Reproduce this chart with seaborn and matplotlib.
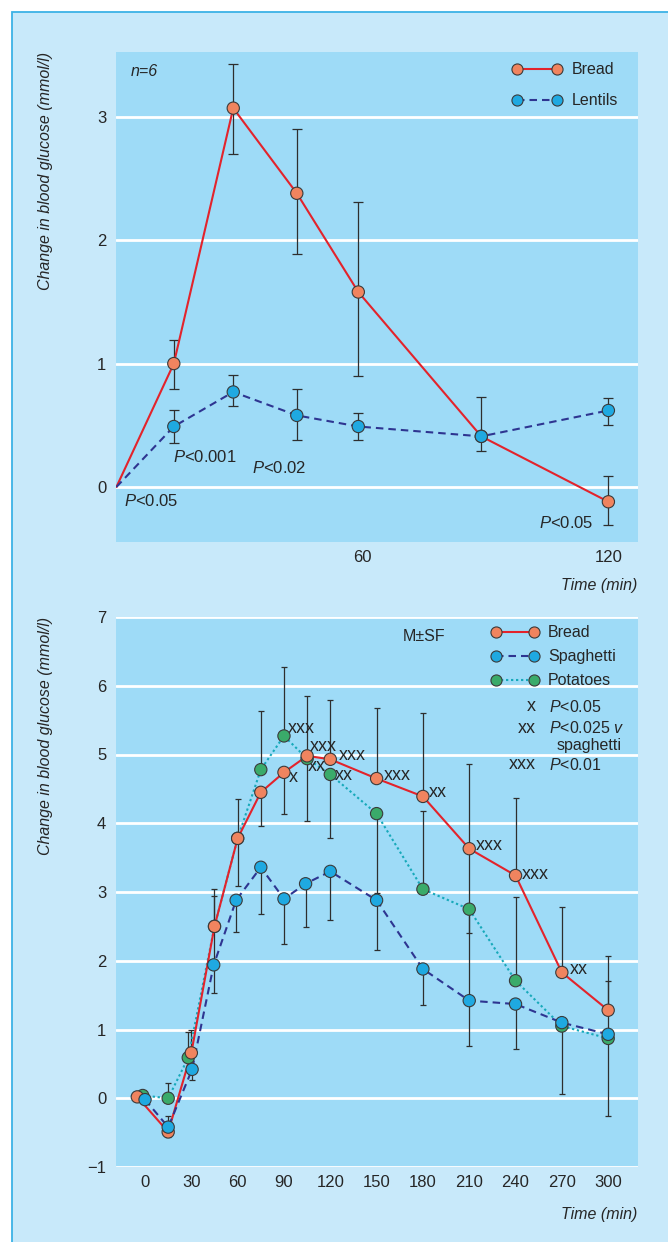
import numpy as np
import pandas as pd
import matplotlib
matplotlib.use("Agg")
import matplotlib.pyplot as plt
from matplotlib import font_manager
from matplotlib.lines import Line2D
from matplotlib.patches import Rectangle
import seaborn as sns

# -----------------------------------------
# Data: upper panel (bread v lentils, n=6)
# -----------------------------------------
top_time = [0, 14, 28.5, 44, 59, 89, 120]
top_bread = [0, 1.00, 3.07, 2.38, 1.58, 0.41, -0.12]
top_bread_lo = [0, 0.21, 0.37, 0.49, 0.68, 0.00, 0.19]
top_bread_hi = [0, 0.19, 0.36, 0.52, 0.73, 0.32, 0.21]
top_lentils = [0, 0.49, 0.77, 0.58, 0.49, 0.41, 0.62]
top_lentils_lo = [0, 0.13, 0.11, 0.20, 0.11, 0.12, 0.12]
top_lentils_hi = [0, 0.13, 0.14, 0.21, 0.11, 0.00, 0.10]
top_notes = ["P<0.05", "P<0.001", "P<0.02", "P<0.05"]
top_note_x = [1.9, 13.8, 33.0, 103.1]
top_note_y = [-0.11, 0.245, 0.156, -0.29]

# -----------------------------------------
# Data: lower panel (bread, spaghetti, potatoes)
# -----------------------------------------
bread_time = [-5, 15, 30, 45, 60, 75, 90, 105, 120, 150, 180, 210, 240, 270, 300]
bread = [0.02, -0.49, 0.66, 2.50, 3.78, 4.45, 4.74, 4.98, 4.93, 4.65, 4.39, 3.63, 3.24, 1.83, 1.28]
bread_lo = [0, 0.08, 0, 0.56, 0.69, 0.49, 0.60, 0, 0, 0, 0, 1.23, 0, 0, 0]
bread_hi = [0, 0, 0.33, 0.44, 0, 0, 0, 0.87, 0.86, 1.03, 1.21, 1.23, 1.13, 0.95, 0.79]

spag_time = [0, 15, 30.5, 44.5, 59, 75, 90, 104, 120, 150, 180, 210, 240, 270, 300]
spaghetti = [-0.02, -0.42, 0.42, 1.94, 2.88, 3.36, 2.90, 3.12, 3.30, 2.88, 1.88, 1.42, 1.37, 1.10, 0.93]
spag_lo = [0, 0, 0.15, 0.41, 0.46, 0.68, 0.65, 0.63, 0.70, 0.73, 0.53, 0.66, 0.65, 1.04, 1.19]
spag_hi = [0, 0.16, 0, 0, 0, 0, 0, 0, 0, 0, 0, 0, 0, 0, 0]

pot_time = [-1.5, 15, 28, 45, 60, 75, 90, 105, 120, 150, 180, 210, 240, 270, 300]
potatoes = [0.04, 0.00, 0.59, 2.50, 3.78, 4.78, 5.27, 4.94, 4.71, 4.14, 3.04, 2.75, 1.71, 1.05, 0.87]
pot_lo = [0, 0, 0, 0, 0, 0, 0, 0.90, 0.93, 1.15, 0, 1.30, 0, 0, 0]
pot_hi = [0, 0.22, 0.38, 0.55, 0.57, 0.85, 1.00, 0, 0, 0, 1.14, 0, 1.22, 0, 0.84]

sig_marks = ["xxx", "x", "xxx", "xx", "xxx", "xx", "xxx", "xx", "xxx", "xxx", "xx"]
sig_x = [92.4, 93.2, 107, 105.3, 125.8, 123, 154.4, 183.7, 214.2, 244.2, 275]
sig_y = [5.38, 4.67, 5.12, 4.82, 4.98, 4.70, 4.70, 4.45, 3.67, 3.25, 1.88]

# -----------------------------------------
# Styles
# -----------------------------------------
FRAME_BG = "#c8e9fa"
AXES_BG = "#9edbf7"
FRAME_EDGE = "#3cb2e6"
BAR_COL = "#2e2e2e"
EDGE_COL = "#3a3a3a"
LINE_COLOURS = {"Bread": "#e3232b", "Lentils": "#2e3591", "Spaghetti": "#2e3591", "Potatoes": "#17a9ba"}
MARKER_COLOURS = {"Bread": "#f0845f", "Lentils": "#1fa9e1", "Spaghetti": "#1fa9e1", "Potatoes": "#3aab6a"}
DASHES = {"Bread": "", "Lentils": (3.6, 2.4), "Spaghetti": (3.6, 2.4), "Potatoes": (1.1, 1.3)}

sns.set_theme(style="white", rc={"axes.facecolor": AXES_BG, "figure.facecolor": "white"})

installed = {f.name for f in font_manager.fontManager.ttflist}
MAIN_FONT = "Liberation Sans Narrow" if "Liberation Sans Narrow" in installed else "Liberation Sans"
plt.rcParams["font.family"] = [MAIN_FONT, "DejaVu Sans"]
plt.rcParams["mathtext.fontset"] = "custom"
plt.rcParams["mathtext.it"] = MAIN_FONT + ":italic"
plt.rcParams["mathtext.rm"] = MAIN_FONT
FS = 11.5
FS_MARK = 13


def p_text(s):
    # italic P (and v), the rest upright
    s = s.replace(" v", r" $\mathit{v}$")
    return s.replace("P", r"$\mathit{P}$", 1) if s.startswith("P") else s


def style_axes(ax, xticks, yticks, xlim, ylim):
    ax.set_xlim(*xlim)
    ax.set_ylim(*ylim)
    ax.set_xticks(xticks)
    ax.set_yticks(yticks)
    for sp in ax.spines.values():
        sp.set_visible(False)
    ax.set_axisbelow(True)
    ax.yaxis.grid(True, color="white", lw=2.0)
    ax.xaxis.grid(False)
    ax.tick_params(axis="y", length=0, pad=7, labelsize=FS + 0.5)
    ax.tick_params(axis="x", direction="in", length=6, width=1.6, color="white", pad=6, labelsize=FS + 0.5)
    ax.set_xlabel("")
    ax.set_ylabel("")
    ax.text(-0.136, 1.0, "Change in blood glucose (mmol/l)", transform=ax.transAxes,
            rotation=90, ha="center", va="top", style="italic", fontsize=FS)


def draw_series(ax, df, order, capsize):
    sns.lineplot(data=df, x="time", y="glucose", hue="food", style="food", hue_order=order,
                 style_order=order, palette=LINE_COLOURS, dashes=DASHES, linewidth=1.5,
                 errorbar=None, legend=False, ax=ax, zorder=2.5)
    for food in order:
        sub = df[(df.food == food) & df.show_bar]
        ax.errorbar(sub.time, sub.glucose, yerr=[sub.lo, sub.hi], fmt="none", ecolor=BAR_COL,
                    elinewidth=0.9, capsize=capsize, capthick=0.9, zorder=2)
    pts = df[df.show_marker]
    sns.scatterplot(data=pts, x="time", y="glucose", hue="food", palette=MARKER_COLOURS,
                    s=78, edgecolor=EDGE_COL, linewidth=0.8, legend=False, ax=ax, zorder=4)


def legend_handles(order):
    hs = []
    for food in order:
        d = DASHES[food]
        hs.append(Line2D([], [], color=LINE_COLOURS[food], lw=1.5, ls="-" if d == "" else (0, d),
                         marker="o", ms=8, mfc=MARKER_COLOURS[food], mec=EDGE_COL, mew=0.8))
    return hs


fig = plt.figure(figsize=(6.68, 12.42), dpi=100)
fig.add_artist(Rectangle((12 / 668, -0.01), 1.0, 1.01 - 12 / 1242, transform=fig.transFigure,
                         facecolor=FRAME_BG, edgecolor=FRAME_EDGE, lw=1.3, zorder=-5))

# ---------------- upper panel ----------------
ax1 = fig.add_axes([116 / 668, 1 - 542 / 1242, 521.5 / 668, 490 / 1242])
n = len(top_time)
top_df = pd.DataFrame({
    "time": top_time * 2,
    "glucose": top_bread + top_lentils,
    "lo": top_bread_lo + top_lentils_lo,
    "hi": top_bread_hi + top_lentils_hi,
    "food": ["Bread"] * n + ["Lentils"] * n,
})
top_df["show_marker"] = top_df.time > 0
top_df["show_bar"] = top_df.time > 0
draw_series(ax1, top_df, ["Bread", "Lentils"], capsize=3.6)
style_axes(ax1, [60, 120], [0, 1, 2, 3], (-0.1, 127.1), (-0.446, 3.525))
ax1.text(3.5, 3.37, "n=6", style="italic", fontsize=FS, va="center", ha="left")
for s, x, y in zip(top_notes, top_note_x, top_note_y):
    ax1.text(x, y, p_text(s), fontsize=FS + 0.5, va="center", ha="left")
ax1.text(1.0, -0.089, "Time (min)", transform=ax1.transAxes, ha="right", va="center",
         style="italic", fontsize=FS)
ax1.legend(legend_handles(["Bread", "Lentils"]), ["Bread", "Lentils"], loc="upper left",
           bbox_to_anchor=(0.760, 0.979), frameon=False, numpoints=2, handlelength=3.1,
           handletextpad=0.64, labelspacing=1.0, borderpad=0, borderaxespad=0, fontsize=FS)

# ---------------- lower panel ----------------
ax2 = fig.add_axes([116 / 668, 1 - 1167 / 1242, 521.5 / 668, 550 / 1242])
m = len(bread_time)
low_df = pd.DataFrame({
    "time": pot_time + bread_time + spag_time,
    "glucose": potatoes + bread + spaghetti,
    "lo": pot_lo + bread_lo + spag_lo,
    "hi": pot_hi + bread_hi + spag_hi,
    "food": ["Potatoes"] * m + ["Bread"] * m + ["Spaghetti"] * m,
})
low_df["show_marker"] = True
low_df["show_bar"] = (low_df.lo + low_df.hi) > 0
draw_series(ax2, low_df, ["Potatoes", "Bread", "Spaghetti"], capsize=2.0)
style_axes(ax2, list(range(0, 301, 30)), list(range(-1, 8)), (-18.8, 319.0), (-1.0, 7.0))
ax2.text(1.0, -0.087, "Time (min)", transform=ax2.transAxes, ha="right", va="center",
         style="italic", fontsize=FS)
for s, x, y in zip(sig_marks, sig_x, sig_y):
    ax2.text(x, y, s, fontsize=FS_MARK, va="center", ha="left")
ax2.text(0.550, 0.964, "M±SF", transform=ax2.transAxes, fontsize=FS, va="center", ha="left")
ax2.legend(legend_handles(["Bread", "Spaghetti", "Potatoes"]), ["Bread", "Spaghetti", "Potatoes"],
           loc="upper left", bbox_to_anchor=(0.7195, 0.985), frameon=False, numpoints=2,
           handlelength=2.98, handletextpad=0.58, labelspacing=0.56, borderpad=0,
           borderaxespad=0, fontsize=FS)

# key to the significance marks
key_marks = ["x", "xx", "xxx"]
key_text = ["P<0.05", "P<0.025 v", "P<0.01"]
key_y = [0.837, 0.798, 0.731]
for mk, tx, y in zip(key_marks, key_text, key_y):
    ax2.text(0.805, y, mk, transform=ax2.transAxes, fontsize=FS_MARK, va="center", ha="right")
    ax2.text(0.830, y, p_text(tx), transform=ax2.transAxes, fontsize=FS, va="center", ha="left")
ax2.text(0.845, 0.767, "spaghetti", transform=ax2.transAxes, fontsize=FS, va="center", ha="left")

fig.savefig("out.png", dpi=100)
